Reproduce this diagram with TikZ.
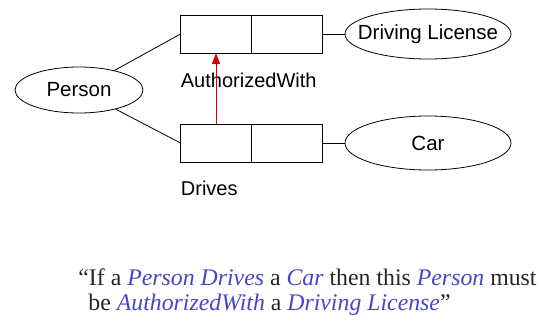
\documentclass[tikz,border=0pt]{standalone}
\usepackage{fontspec}
\setmainfont{Liberation Serif}
\newfontfamily\arialfont{Liberation Sans}
\usetikzlibrary{arrows.meta, positioning, shapes.geometric}
\definecolor{bleuterme}{RGB}{70,70,200}
\newcommand{\terme}[1]{\textcolor{bleuterme}{\textit{#1}}}

\begin{document}
\begin{tikzpicture}[
  x=1pt, y=-1pt,
  line width=0.8pt,
  >={Triangle[length=11pt, width=8pt]},
  classe/.style={draw, ellipse, inner sep=0pt, inner xsep=-30pt,
                 font=\arialfont\fontsize{20.5}{22}\selectfont},
  cellule/.style={draw, rectangle, minimum width=71pt, minimum height=38pt,
                  inner sep=0pt, outer sep=0pt},
  etiquette/.style={anchor=base west, inner sep=0pt,
                    font=\arialfont\fontsize{20}{22}\selectfont},
  phrase/.style={anchor=base west, inner sep=0pt, text=black!85,
                 font=\fontsize{23.8}{25}\selectfont},
]
  \useasboundingbox (0,0) rectangle (541,327);

  % classes
  \node [classe, minimum width=128pt, minimum height=46pt] (person)  at ( 79, 90) {Person};
  \node [classe, minimum width=166pt, minimum height=50pt] (license) at (428, 34) {Driving License};
  \node [classe, minimum width=166pt, minimum height=54pt] (car)     at (428,143) {Car};

  % relations
  \node [cellule] (authL) at (216, 34) {};
  \node [cellule, right=0pt of authL] (authR) {};
  \node [cellule] (drivesL) at (216,143) {};
  \node [cellule, right=0pt of drivesL] (drivesR) {};

  \node [etiquette] (authLbl)   at ([yshift=-34pt] authL.south west)   {AuthorizedWith};
  \node [etiquette] (drivesLbl) at ([yshift=-33pt] drivesL.south west) {Drives};

  % liens
  \draw (person) -- (authL.west) ;
  \draw (person) -- (drivesL.west) ;
  \draw (authR) -- (license) ;
  \draw (drivesR) -- (car) ;
  \draw [->, red!85!black, line width=1pt] (drivesL) -- (authL) ;

  % phrase
  \node [phrase] (phraseA) at (78,285)
        {“If a \terme{Person Drives} a \terme{Car} then this \terme{Person} must};
  \node [phrase] (phraseB) at (88,310)
        {be \terme{AuthorizedWith} a \terme{Driving License}”};
\end{tikzpicture}
\end{document}
